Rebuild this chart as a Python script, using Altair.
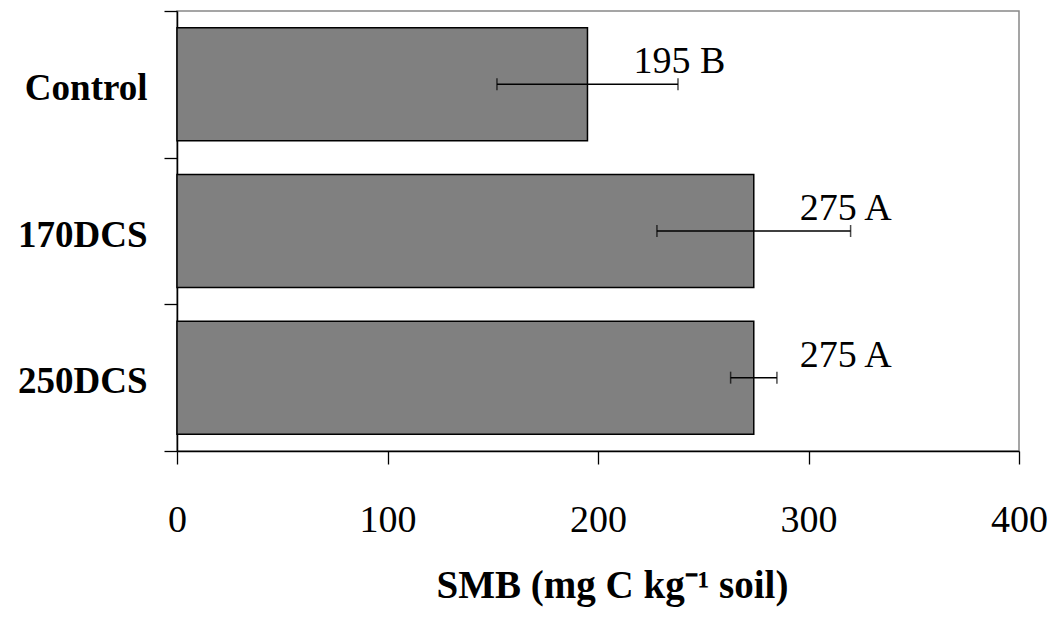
import altair as alt
import pandas as pd

categories = ["Control", "170DCS", "250DCS"]
values = [195, 274, 274]
err = [43, 46, 11]
labels = ["195 B", "275 A", "275 A"]

df = pd.DataFrame({
    "cat": categories,
    "val": values,
    "lo": [v - e for v, e in zip(values, err)],
    "hi": [v + e for v, e in zip(values, err)],
    "label": labels,
})

FONT = "Liberation Serif"

y_enc = alt.Y(
    "cat:N",
    sort=categories,
    scale=alt.Scale(paddingInner=0, paddingOuter=0),
    axis=alt.Axis(
        title=None,
        tickBand="extent",
        tickSize=13,
        tickColor="black",
        tickWidth=1.3,
        domainColor="black",
        domainWidth=1.5,
        labelFont=FONT,
        labelFontSize=37,
        labelFontWeight="bold",
        labelColor="black",
        labelPadding=17,
        labelOffset=4,
        labelLimit=400,
    ),
)

x_scale = alt.Scale(domain=[0, 400], nice=False)
x_axis = alt.Axis(
    title="SMB (mg C kg\u207b\u00b9 soil)",
    values=[0, 100, 200, 300, 400],
    tickSize=13,
    tickColor="black",
    tickWidth=1.3,
    domainColor="black",
    domainWidth=1.5,
    grid=False,
    labelFlush=False,
    labelFont=FONT,
    labelFontSize=38,
    labelColor="black",
    labelPadding=37,
    titleFont=FONT,
    titleFontSize=39,
    titleFontWeight="bold",
    titleColor="black",
    titlePadding=27,
    titleX=435,
    titleAlign="center",
)

bars = alt.Chart(df).mark_bar(
    height=alt.RelativeBandSize(0.77),
    fill="#808080",
    stroke="black",
    strokeWidth=1.5,
).encode(
    x=alt.X("val:Q", scale=x_scale, axis=x_axis),
    y=y_enc,
)

rules = alt.Chart(df).mark_rule(color="black", strokeWidth=1.5).encode(
    x=alt.X("lo:Q", scale=x_scale),
    x2="hi:Q",
    y=alt.Y("cat:N", sort=categories),
)

caps_lo = alt.Chart(df).mark_tick(
    orient="vertical", color="black", size=12, thickness=1.5
).encode(x=alt.X("lo:Q", scale=x_scale), y=alt.Y("cat:N", sort=categories))

caps_hi = alt.Chart(df).mark_tick(
    orient="vertical", color="black", size=12, thickness=1.5
).encode(x=alt.X("hi:Q", scale=x_scale), y=alt.Y("cat:N", sort=categories))

text = alt.Chart(df).mark_text(
    align="left", baseline="alphabetic", dx=46, dy=-11,
    font=FONT, fontSize=38, color="black",
).encode(
    x=alt.X("val:Q", scale=x_scale),
    y=alt.Y("cat:N", sort=categories),
    text="label:N",
)

chart = alt.layer(bars, rules, caps_lo, caps_hi, text).properties(
    width=842,
    height=440,
    autosize=alt.AutoSizeParams(type="none"),
    padding={"left": 169, "top": 3, "right": 32, "bottom": 158},
    background="white",
).configure_view(
    stroke="#888888", strokeWidth=1.5
)

chart.save("out.html", embed_options={"renderer": "svg", "actions": False})
